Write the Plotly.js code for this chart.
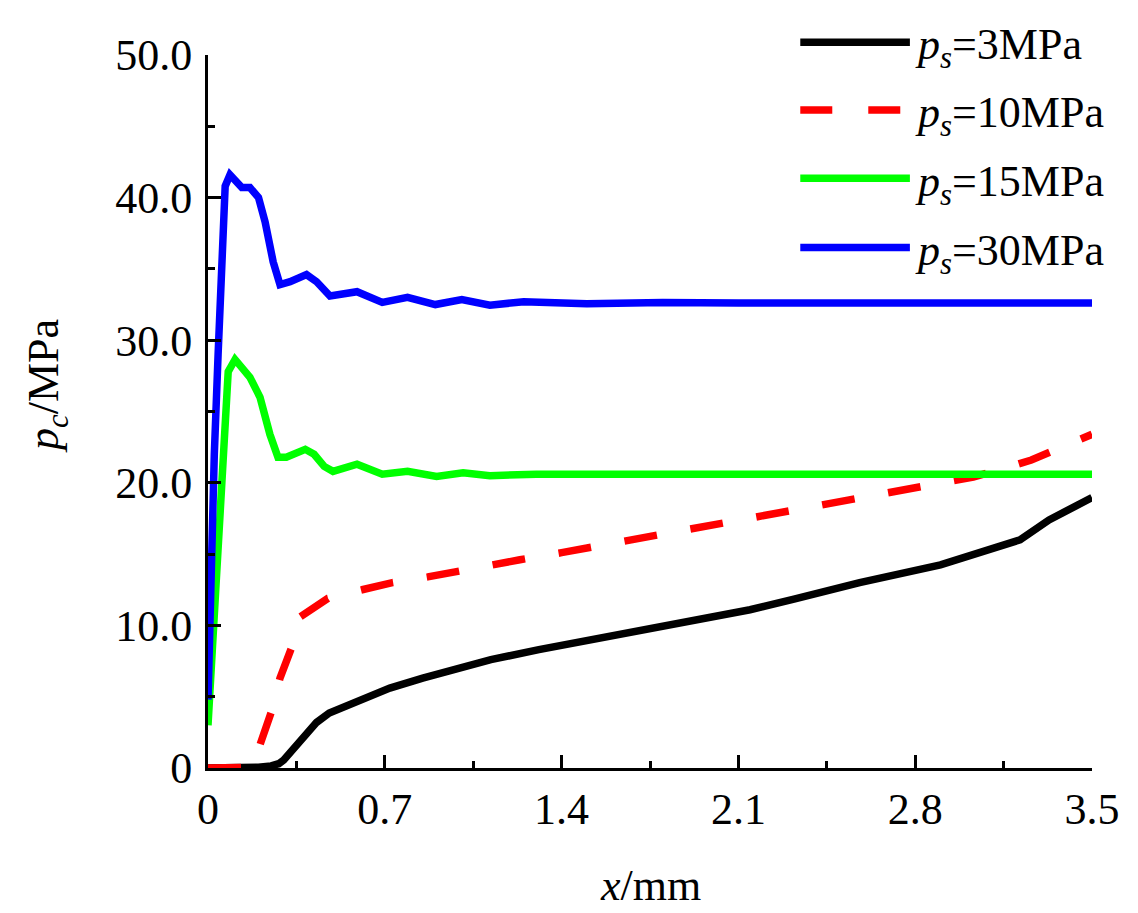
<!DOCTYPE html>
<html>
<head>
<meta charset="utf-8">
<script src="https://cdn.plot.ly/plotly-3.0.1.min.js"></script>
<style>
  html, body { margin: 0; padding: 0; background: #fff; }
  #chart { width: 1138px; height: 913px; }
</style>
</head>
<body>
<div id="chart"></div>
<script>
// values (x in mm, pc in MPa)
const x3 = [0, 0.1, 0.2, 0.25, 0.28, 0.30, 0.325, 0.36, 0.39, 0.43, 0.48, 0.55, 0.63, 0.72, 0.85, 0.98, 1.12, 1.31, 1.4, 1.6, 1.8, 2.0, 2.146, 2.32, 2.58, 2.9, 3.07, 3.215, 3.33, 3.42, 3.5];
const y3 = [0, 0, 0.05, 0.15, 0.3, 0.56, 1.05, 1.8, 2.5, 3.2, 3.85, 4.4, 5.0, 5.6, 6.3, 6.9, 7.6, 8.3, 8.6, 9.3, 10.0, 10.6, 11.1, 11.85, 13.0, 14.25, 15.2, 16.0, 17.4, 18.2, 18.96];

const x10 = [0, 0.12, 0.15, 0.18, 0.21, 0.25, 0.285, 0.33, 0.365, 0.42, 0.475, 0.61, 0.73, 0.87, 0.98, 1.12, 1.235, 1.4, 1.6, 1.8, 2.0, 2.16, 2.28, 2.41, 2.53, 2.66, 2.78, 2.92, 3.03, 3.15, 3.26, 3.38, 3.5];
const y10 = [0, 0, 0.05, 0.3, 1.75, 3.9, 6.3, 8.4, 10.6, 11.3, 11.9, 12.5, 13.0, 13.4, 13.8, 14.25, 14.6, 15.1, 15.75, 16.4, 17.0, 17.55, 17.9, 18.3, 18.7, 19.2, 19.5, 20.0, 20.4, 21.0, 21.6, 22.5, 23.4];

const x15 = [0, 0.08, 0.107, 0.14, 0.166, 0.206, 0.245, 0.277, 0.31, 0.385, 0.42, 0.46, 0.495, 0.59, 0.69, 0.79, 0.905, 1.01, 1.116, 1.3, 1.6, 2.0, 2.5, 3.0, 3.5];
const y15 = [3.0, 27.8, 28.65, 28.0, 27.4, 26.0, 23.4, 21.8, 21.8, 22.35, 22.0, 21.15, 20.8, 21.3, 20.6, 20.8, 20.45, 20.7, 20.5, 20.6, 20.6, 20.65, 20.65, 20.6, 20.6];

const x30 = [0, 0.012, 0.025, 0.04, 0.055, 0.068, 0.087, 0.11, 0.134, 0.166, 0.2, 0.226, 0.258, 0.285, 0.325, 0.39, 0.43, 0.483, 0.59, 0.69, 0.79, 0.9, 1.005, 1.116, 1.25, 1.5, 1.8, 2.1, 2.5, 3.0, 3.5];
const y30 = [4.8, 14, 22, 29, 36, 40.8, 41.6, 41.1, 40.7, 40.7, 40.0, 38.3, 35.5, 33.9, 34.1, 34.6, 34.1, 33.1, 33.4, 32.65, 33.0, 32.5, 32.85, 32.45, 32.7, 32.55, 32.65, 32.6, 32.6, 32.6, 32.6];

const seriesNames = ["<i>p</i><sub><i>s</i></sub>=3MPa", "<i>p</i><sub><i>s</i></sub>=10MPa",
                     "<i>p</i><sub><i>s</i></sub>=15MPa", "<i>p</i><sub><i>s</i></sub>=30MPa"];
const seriesColors = ["#000000", "#ff0000", "#00ff00", "#0000ff"];
const seriesDash = ["solid", "33px,34px", "solid", "solid"];

const xTickVals = [0, 0.7, 1.4, 2.1, 2.8, 3.5];
const xTickText = ["0", "0.7", "1.4", "2.1", "2.8", "3.5"];
const yTickVals = [0, 10, 20, 30, 40, 50];
const yTickText = ["0", "10.0", "20.0", "30.0", "40.0", "50.0"];

const xs = [x3, x10, x15, x30];
const ys = [y3, y10, y15, y30];

const font = { family: "Liberation Serif, Times New Roman, serif", size: 44, color: "#000" };

const traces = xs.map((x, i) => ({
  x: x,
  y: ys[i],
  type: "scatter",
  mode: "lines",
  name: seriesNames[i],
  line: { color: seriesColors[i], width: 7.5, dash: seriesDash[i] },
  showlegend: false,
}));

// hand-made legend: long line samples like the original figure
const legendRows = [1.018, 0.923, 0.827, 0.73];
const shapes = [];
const annotations = [];
legendRows.forEach((yy, i) => {
  shapes.push({
    type: "line", xref: "paper", yref: "paper",
    x0: 0.67, x1: 0.794, y0: yy, y1: yy,
    line: { color: seriesColors[i], width: 7.5, dash: i === 1 ? "32px,36px" : "solid" },
  });
  annotations.push({
    xref: "paper", yref: "paper", x: 0.797, y: yy - 0.008,
    xanchor: "left", yanchor: "middle", showarrow: false,
    text: seriesNames[i], font: font,
  });
});

// axis titles
annotations.push({
  xref: "paper", yref: "paper", x: 0.5, y: -0.165,
  xanchor: "center", yanchor: "middle", showarrow: false,
  text: "<i>x</i>/mm", font: font,
});
annotations.push({
  xref: "paper", yref: "paper", x: -0.182, y: 0.536,
  xanchor: "center", yanchor: "middle", showarrow: false, textangle: -90,
  text: "<i>p</i><sub><i>c</i></sub>/MPa", font: font,
});

const axisCommon = {
  showline: true, linewidth: 3, linecolor: "#000",
  showgrid: false, zeroline: false,
  ticks: "inside", ticklen: 13, tickwidth: 3, tickcolor: "#000",
  tickfont: font, tickmode: "array",
};

const layout = {
  width: 1138, height: 913,
  margin: { l: 208, r: 46, t: 55, b: 145 },
  paper_bgcolor: "#fff", plot_bgcolor: "#fff",
  font: font,
  xaxis: Object.assign({}, axisCommon, {
    range: [0, 3.5], tickvals: xTickVals, ticktext: xTickText, ticklabelstandoff: 0,
    minor: { ticks: "inside", ticklen: 7, tickwidth: 3, tickcolor: "#000", dtick: 0.35, tick0: 0, showgrid: false },
  }),
  yaxis: Object.assign({}, axisCommon, {
    range: [0, 50], tickvals: yTickVals, ticktext: yTickText, ticklabelstandoff: 4,
    minor: { ticks: "inside", ticklen: 7, tickwidth: 3, tickcolor: "#000", dtick: 5, tick0: 0, showgrid: false },
  }),
  shapes: shapes,
  annotations: annotations,
  showlegend: false,
};

Plotly.newPlot("chart", traces, layout, { displayModeBar: false });
</script>
</body>
</html>
